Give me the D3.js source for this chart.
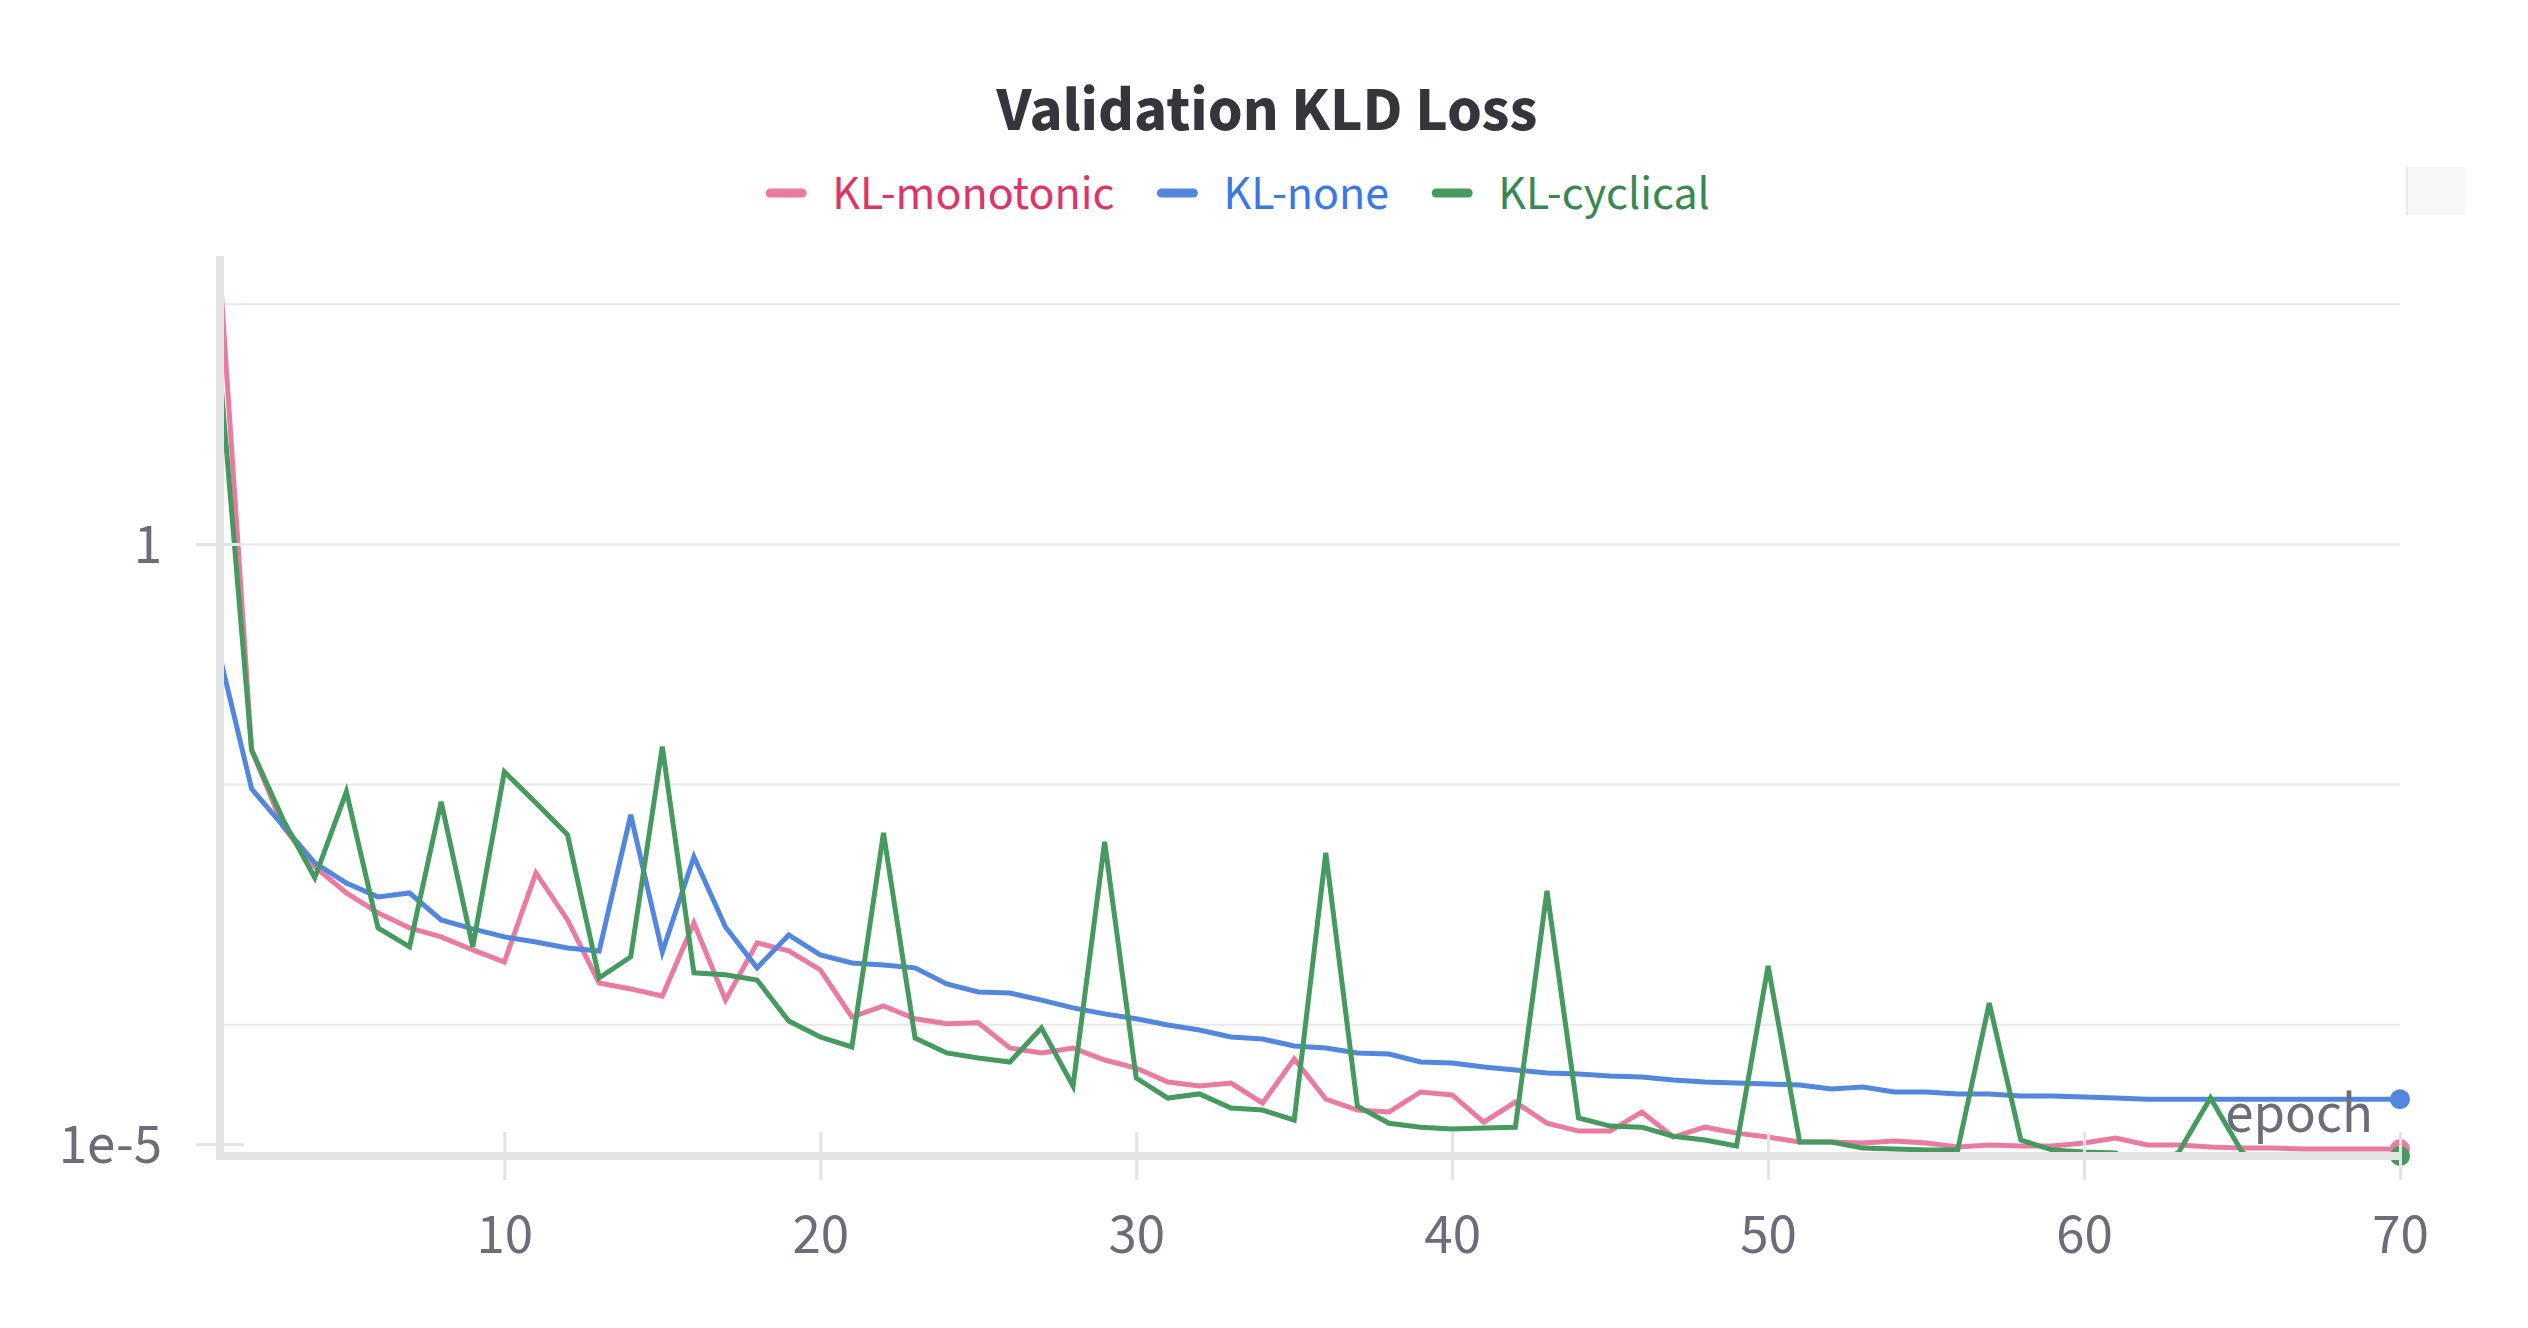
<!DOCTYPE html>
<html lang="en">
<head>
    <meta charset="UTF-8">
    <title>Validation KLD Loss</title>
    <script src="https://cdn.jsdelivr.net/npm/d3@7/dist/d3.min.js"></script>
    <style>
        body { margin: 0; background: #fff; }
        text { font-family: "Source Sans Pro", "Source Sans 3", Lato, sans-serif; }
    </style>
</head>
<body>

<svg id="chart" width="2528" height="1328"></svg>

<script>
    // values (log scale)
    var epochs = [1, 2, 3, 4, 5, 6, 7, 8, 9, 10, 11, 12, 13, 14, 15, 16, 17, 18, 19, 20,
        21, 22, 23, 24, 25, 26, 27, 28, 29, 30, 31, 32, 33, 34, 35, 36, 37, 38, 39, 40,
        41, 42, 43, 44, 45, 46, 47, 48, 49, 50, 51, 52, 53, 54, 55, 56, 57, 58, 59, 60,
        61, 62, 63, 64, 65, 66, 67, 68, 69, 70];

    var klMonotonic = [180, 0.0193, 0.00441, 0.00205, 0.00124, 8.46e-4, 6.35e-4, 5.34e-4, 4.16e-4, 3.30e-4,
        1.82e-3, 7.40e-4, 2.21e-4, 1.97e-4, 1.72e-4, 6.98e-4, 1.59e-4, 4.76e-4, 4.08e-4, 2.84e-4,
        1.15e-4, 1.42e-4, 1.11e-4, 1.01e-4, 1.03e-4, 6.35e-5, 5.77e-5, 6.35e-5, 5.04e-5, 4.32e-5,
        3.30e-5, 3.06e-5, 3.24e-5, 2.21e-5, 5.14e-5, 2.38e-5, 1.93e-5, 1.86e-5, 2.73e-5, 2.58e-5,
        1.53e-5, 2.25e-5, 1.50e-5, 1.29e-5, 1.29e-5, 1.86e-5, 1.15e-5, 1.39e-5, 1.24e-5, 1.15e-5,
        1.045e-5, 1.045e-5, 1.025e-5, 1.065e-5, 1.025e-5, 9.5e-6, 9.87e-6, 9.68e-6, 9.68e-6, 1.025e-5,
        1.13e-5, 9.87e-6, 9.87e-6, 9.5e-6, 9.31e-6, 9.31e-6, 9.14e-6, 9.14e-6, 9.14e-6, 9.14e-6];

    var klNone = [0.115, 0.00914, 0.00449, 0.00221, 0.00150, 0.00115, 0.00124, 7.40e-4, 6.22e-4, 5.34e-4,
        4.85e-4, 4.32e-4, 4.08e-4, 0.00555, 4.00e-4, 0.00248, 6.47e-4, 2.95e-4, 5.55e-4, 3.78e-4,
        3.24e-4, 3.12e-4, 2.95e-4, 2.17e-4, 1.86e-4, 1.82e-4, 1.59e-4, 1.37e-4, 1.22e-4, 1.11e-4,
        9.87e-5, 8.96e-5, 7.83e-5, 7.54e-5, 6.59e-5, 6.35e-5, 5.77e-5, 5.66e-5, 4.85e-5, 4.76e-5,
        4.41e-5, 4.16e-5, 3.93e-5, 3.85e-5, 3.71e-5, 3.64e-5, 3.43e-5, 3.30e-5, 3.24e-5, 3.18e-5,
        3.12e-5, 2.89e-5, 3.00e-5, 2.73e-5, 2.73e-5, 2.63e-5, 2.63e-5, 2.53e-5, 2.53e-5, 2.48e-5,
        2.43e-5, 2.38e-5, 2.38e-5, 2.38e-5, 2.38e-5, 2.38e-5, 2.38e-5, 2.38e-5, 2.38e-5, 2.38e-5];

    var klCyclical = [26.8, 0.0193, 0.00504, 0.00166, 0.00863, 6.35e-4, 4.41e-4, 0.00712, 4.41e-4, 0.01266,
        0.00698, 0.00378, 2.43e-4, 3.64e-4, 0.0205, 2.68e-4, 2.58e-4, 2.34e-4, 1.065e-4, 7.83e-5,
        6.47e-5, 0.00393, 7.69e-5, 5.77e-5, 5.24e-5, 4.85e-5, 9.31e-5, 3.06e-5, 0.00330, 3.57e-5,
        2.43e-5, 2.63e-5, 2.01e-5, 1.93e-5, 1.59e-5, 0.00268, 2.08e-5, 1.50e-5, 1.39e-5, 1.34e-5,
        1.37e-5, 1.39e-5, 0.00129, 1.66e-5, 1.42e-5, 1.39e-5, 1.17e-5, 1.086e-5, 9.68e-6, 3.06e-4,
        1.045e-5, 1.045e-5, 9.31e-6, 9.14e-6, 8.96e-6, 8.96e-6, 1.505e-4, 1.086e-5, 8.96e-6, 8.63e-6,
        8.46e-6, 6e-6, 8.63e-6, 2.43e-5, 8.63e-6, 6e-6, 6e-6, 6e-6, 6e-6, 7.99e-6];

    var seriesNames = ["KL-monotonic", "KL-none", "KL-cyclical"];
    var lineColors = ["#e87b9f", "#5387dd", "#479a5f"];
    var labelColors = ["#dc3569", "#3b78df", "#3a8753"];

    var xTickValues = [10, 20, 30, 40, 50, 60, 70];
    var yTickValues = [1, 1e-5];
    var yTickLabels = ["1", "1e-5"];
    var yGridValues = [100, 1, 0.01, 1e-4];

    var svg = d3.select("#chart"),
        margin = {top: 256, right: 128, bottom: 172, left: 220},
        width = +svg.attr("width") - margin.left - margin.right,
        height = +svg.attr("height") - margin.top - margin.bottom,
        g = svg.append("g").attr("transform", "translate(" + margin.left + "," + margin.top + ")");

    var axisColor = "#e4e4e7",
        tickTextColor = "#6c6d78",
        tickFont = 57;

    var x = d3.scaleLinear()
        .domain([1, 70])
        .range([0, width]);

    var y = d3.scaleLog()
        .domain([8e-6, 250])
        .range([height, 0]);

    // title
    svg.append("text")
        .attr("x", 1267)
        .attr("y", 130)
        .attr("text-anchor", "middle")
        .attr("font-size", 63)
        .attr("font-weight", "bold")
        .attr("fill", "#35363b")
        .text("Validation KLD Loss");

    // legend
    var legend = svg.append("g");
    var lx = 0;
    seriesNames.forEach(function (name, i) {
        legend.append("line")
            .attr("x1", lx + 4).attr("x2", lx + 36)
            .attr("y1", 193).attr("y2", 193)
            .attr("stroke", lineColors[i])
            .attr("stroke-width", 9)
            .attr("stroke-linecap", "round");
        var t = legend.append("text")
            .attr("x", lx + 66)
            .attr("y", 209)
            .attr("font-size", 48)
            .attr("fill", labelColors[i])
            .text(name);
        lx += 66 + t.node().getComputedTextLength() + 43;
    });
    var legendWidth = lx - 43;
    legend.attr("transform", "translate(" + (1238 - legendWidth / 2) + ",0)");

    // little panel box top right
    svg.append("rect")
        .attr("x", 2407).attr("y", 167)
        .attr("width", 58).attr("height", 48)
        .attr("fill", "#f7f7f8");
    svg.append("line")
        .attr("x1", 2407).attr("x2", 2407)
        .attr("y1", 167).attr("y2", 215)
        .attr("stroke", "#e9e9eb")
        .attr("stroke-width", 2);

    // grid
    g.append("g")
        .call(d3.axisLeft(y).tickValues(yGridValues).tickSize(-width).tickFormat(""))
        .call(function (sel) { sel.select(".domain").remove(); })
        .selectAll("line")
        .attr("x1", 4)
        .attr("stroke", "#e8e8e8")
        .attr("stroke-width", 2);

    // lines
    g.append("clipPath")
        .attr("id", "plotclip")
        .append("rect")
        .attr("x", 0).attr("y", 0)
        .attr("width", width).attr("height", height);

    var line = d3.line()
        .x(function (d) { return x(d.epoch); })
        .y(function (d) { return y(d.value); });

    var allSeries = [klMonotonic, klNone, klCyclical].map(function (vals, i) {
        return {
            name: seriesNames[i],
            color: lineColors[i],
            values: vals.map(function (v, j) { return {epoch: epochs[j], value: v}; })
        };
    });

    g.append("g")
        .attr("clip-path", "url(#plotclip)")
        .selectAll("path")
        .data(allSeries)
        .enter().append("path")
        .attr("fill", "none")
        .attr("stroke", function (d) { return d.color; })
        .attr("stroke-width", 5)
        .attr("stroke-linejoin", "miter")
        .attr("d", function (d) { return line(d.values); });

    // end-point dots
    g.append("g")
        .selectAll("circle")
        .data(allSeries)
        .enter().append("circle")
        .attr("cx", function (d) { return x(d.values[d.values.length - 1].epoch); })
        .attr("cy", function (d) { return y(Math.max(d.values[d.values.length - 1].value, 8e-6)); })
        .attr("r", 10)
        .attr("fill", function (d) { return d.color; });

    // axes
    var yAxis = g.append("g")
        .call(d3.axisLeft(y).tickValues(yTickValues).tickFormat(function (d, i) { return yTickLabels[i]; }));
    yAxis.select(".domain").remove();
    yAxis.selectAll(".tick line")
        .attr("x1", -24).attr("x2", 24)
        .attr("stroke", axisColor)
        .attr("stroke-width", 3);
    yAxis.selectAll(".tick text")
        .attr("x", -58)
        .attr("font-size", tickFont)
        .attr("font-family", null)
        .attr("fill", tickTextColor);

    var xAxis = g.append("g")
        .attr("transform", "translate(0," + height + ")")
        .call(d3.axisBottom(x).tickValues(xTickValues));
    xAxis.select(".domain").remove();
    xAxis.selectAll(".tick line")
        .attr("y1", -24).attr("y2", 24)
        .attr("stroke", axisColor)
        .attr("stroke-width", 3);
    xAxis.selectAll(".tick text")
        .attr("y", 97)
        .attr("dy", 0)
        .attr("font-size", tickFont)
        .attr("font-family", null)
        .attr("fill", tickTextColor);

    g.append("line")
        .attr("x1", 0).attr("x2", 0)
        .attr("y1", 0).attr("y2", height + 4)
        .attr("stroke", axisColor)
        .attr("stroke-width", 8);
    g.append("line")
        .attr("x1", -4).attr("x2", width)
        .attr("y1", height).attr("y2", height)
        .attr("stroke", axisColor)
        .attr("stroke-width", 8);

    g.append("text")
        .attr("x", x(70) - 27)
        .attr("y", height - 24)
        .attr("text-anchor", "end")
        .attr("font-size", tickFont)
        .attr("fill", tickTextColor)
        .text("epoch");
</script>

</body>
</html>
